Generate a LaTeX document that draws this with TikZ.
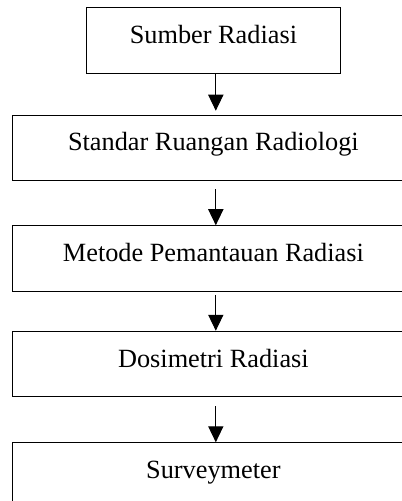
\documentclass[tikz,border=0pt]{standalone}
\usepackage{fontspec}
\setmainfont{Liberation Serif}
\usepackage{tikz}
\usetikzlibrary{positioning,arrows.meta}

\begin{document}
\begin{tikzpicture}[
  box/.style={draw, line width=0.5pt, minimum height=32.75pt,
    text height=0.65em, text depth=0.35em,
    font=\fontsize{13.15}{15}\selectfont},
  wide/.style={box, minimum width=200.8pt},
  arr/.style={line width=0.5pt, -{Triangle[length=8pt,width=7.6pt]}}
]
  % Fix the picture size
  \useasboundingbox (0,0) rectangle (200.5pt,-250.5pt);

  % Draw the boxes
  \node[box, minimum width=126.6pt] (sumber) at (106.7pt,-20.25pt) {Sumber Radiasi};
  \node[wide, below=20.5pt of sumber] (standar) {Standar Ruangan Radiologi};
  \node[wide, below=22pt of standar] (metode) {Metode Pemantauan Radiasi};
  \node[wide, below=19.5pt of metode] (dosimetri) {Dosimetri Radiasi};
  \node[wide, below=22.5pt of dosimetri] (survey) {Surveymeter};

  % Draw the arrows
  \draw[arr, shorten >=2pt] ([xshift=1.2pt]sumber.south) -- ([xshift=1.2pt]standar.north);
  \draw[arr, shorten <=4pt] ([xshift=1.2pt]standar.south) -- ([xshift=1.2pt]metode.north);
  \draw[arr, shorten <=1.5pt] ([xshift=1.2pt]metode.south) -- ([xshift=1.2pt]dosimetri.north);
  \draw[arr, shorten <=4.5pt] ([xshift=1.2pt]dosimetri.south) -- ([xshift=1.2pt]survey.north);

\end{tikzpicture}
\end{document}
